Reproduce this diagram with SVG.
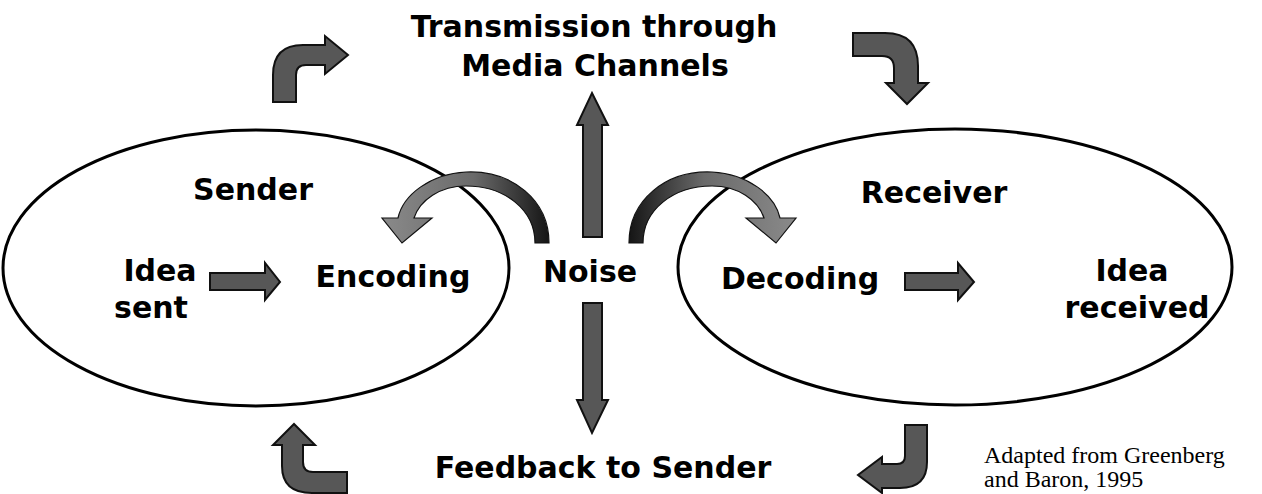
<svg xmlns="http://www.w3.org/2000/svg" width="1262" height="494" viewBox="0 0 1262 494">
<style>
.lbl{font-family:"DejaVu Sans","Liberation Sans",sans-serif;font-weight:bold;font-size:30px;fill:#000;text-anchor:middle}
.src{font-family:"Liberation Serif","Times New Roman",serif;font-size:24px;fill:#000}
.ell{fill:none;stroke:#000;stroke-width:3}
.blk{fill:#575757;stroke:#111;stroke-width:2;stroke-linejoin:miter}
.crv{fill:url(#cg);stroke:#111;stroke-width:1.2}
</style>
<defs>
<linearGradient id="cg" x1="0" y1="0" x2="1" y2="0">
<stop offset="0" stop-color="#8a8a8a"/>
<stop offset="0.55" stop-color="#6a6a6a"/>
<stop offset="1" stop-color="#151515"/>
</linearGradient>
</defs>
<g id="sender">
<ellipse class="ell" cx="256" cy="268" rx="253" ry="138"/>
<text class="lbl" x="253" y="200">Sender</text>
</g>
<g id="receiver">
<ellipse class="ell" cx="955" cy="267" rx="277" ry="138"/>
<text class="lbl" x="934" y="203">Receiver</text>
</g>
<g id="idea-sent"><text class="lbl" x="160" y="281">Idea</text><text class="lbl" x="151" y="318">sent</text></g>
<g id="encoding"><text class="lbl" x="393" y="287">Encoding</text></g>
<g id="noise"><text class="lbl" x="590" y="282">Noise</text></g>
<g id="decoding"><text class="lbl" x="800" y="289">Decoding</text></g>
<g id="idea-received"><text class="lbl" x="1132" y="281">Idea</text><text class="lbl" x="1137" y="318">received</text></g>
<g id="transmission"><text class="lbl" x="594" y="37">Transmission through</text><text class="lbl" x="595" y="76">Media Channels</text></g>
<g id="feedback"><text class="lbl" x="603" y="478">Feedback to Sender</text></g>
<g id="source"><text class="src" x="984" y="463">Adapted from Greenberg</text><text class="src" x="984" y="487">and Baron, 1995</text></g>
<g id="connectors">
<path class="blk" d="M273,102 L273,75 Q273,45 303,45 L325,45 L325,36 L348,55 L325,74 L325,65 L306,65 Q296,65 296,75 L296,102 Z"/>
<path class="blk" d="M853,33 L885,33 Q918,33 918,66 L918,83 L928,83 L907,104 L886,83 L894,83 L894,68 Q894,56 882,56 L853,56 Z"/>
<path class="blk" d="M905,425 L927,425 L927,462 Q927,488 900,488 L882,488 L882,493 L858,475 L882,457 L882,464 L897,464 Q905,464 905,456 Z"/>
<path class="blk" d="M347,472 L347,493 L312,493 Q282,493 282,466 L282,445 L273,445 L294,424 L315,445 L303,445 L303,462 Q303,472 313,472 Z"/>
<path class="blk" d="M583,237 L583,125 L577,125 L592,93 L608,125 L602,125 L602,237 Z"/>
<path class="blk" d="M583,303 L602,303 L602,400 L608,400 L592,433 L577,400 L583,400 Z"/>
<path class="blk" d="M210,273 L265,273 L265,263 L280,282 L265,300 L265,290 L210,290 Z"/>
<path class="blk" d="M905,273 L958,273 L958,263 L974,282 L958,300 L958,290 L905,290 Z"/>
<path class="crv" d="M535,243 L549,243 C549,200 512,170 466,172 C430,174 403,195 398,218 L382,218 L402,243 L432,218 L414,218 C420,200 440,186 466,186 C505,186 535,210 535,243 Z"/>
<path class="crv" transform="matrix(-1,0,0,1,1178,0)" d="M535,243 L549,243 C549,200 512,170 466,172 C430,174 403,195 398,218 L382,218 L402,243 L432,218 L414,218 C420,200 440,186 466,186 C505,186 535,210 535,243 Z"/>
</g>
</svg>
